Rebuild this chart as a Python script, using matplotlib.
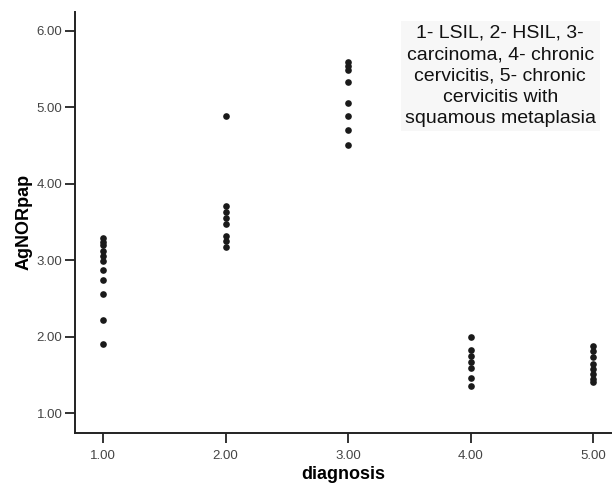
import numpy as np
import matplotlib.pyplot as plt

plt.rcParams['font.family'] = ['Liberation Sans', 'DejaVu Sans']

# AgNORpap values per diagnosis group
lsil = [3.29, 3.24, 3.20, 3.12, 3.05, 2.99, 2.87, 2.74, 2.56, 2.22, 1.90]
hsil = [4.89, 3.71, 3.63, 3.55, 3.47, 3.32, 3.25, 3.17]
carcinoma = [5.59, 5.54, 5.49, 5.33, 5.06, 4.89, 4.70, 4.51]
chronic = [1.99, 1.82, 1.75, 1.67, 1.59, 1.46, 1.35]
metaplasia = [1.88, 1.81, 1.73, 1.64, 1.58, 1.51, 1.45, 1.40]

groups = [lsil, hsil, carcinoma, chronic, metaplasia]
diag = [1, 2, 3, 4, 5]

x_ticks = [1, 2, 3, 4, 5]
y_ticks = [1, 2, 3, 4, 5, 6]

note = ("1- LSIL, 2- HSIL, 3-\ncarcinoma, 4- chronic\ncervicitis, 5- chronic\n"
        "cervicitis with\nsquamous metaplasia")

fig = plt.figure(figsize=(6.12, 4.91), dpi=100)
ax = fig.add_axes([0.1225, 0.118, 0.876, 0.858])

for d, vals in zip(diag, groups):
    ax.plot([d] * len(vals), vals, 'o', color='#1a1a1a', markersize=4.8,
            markeredgewidth=0, clip_on=False)

ax.set_xlim(0.772, 5.145)
ax.set_ylim(0.738, 6.25)
ax.set_xticks(x_ticks)
ax.set_xticklabels(['%.2f' % v for v in x_ticks])
ax.set_yticks(y_ticks)
ax.set_yticklabels(['%.2f' % v for v in y_ticks])

for s in ['top', 'right']:
    ax.spines[s].set_visible(False)
for s in ['left', 'bottom']:
    ax.spines[s].set_linewidth(1.4)
    ax.spines[s].set_color('#222222')

ax.tick_params(direction='out', length=7, width=1.3, color='#222222',
               labelsize=9.5, labelcolor='#444444')
ax.tick_params(axis='y', pad=2)
ax.tick_params(axis='x', pad=5)

ax.set_xlabel('diagnosis', fontsize=13, fontweight='bold', labelpad=3)
ax.set_ylabel('AgNORpap', fontsize=13, fontweight='bold', labelpad=3)

ax.text(4.24, 5.41, note, ha='center', va='center', fontsize=14,
        color='#111111', linespacing=1.34,
        bbox=dict(facecolor='#f7f7f7', edgecolor='none', pad=3))

fig.savefig('out.png', dpi=100)
